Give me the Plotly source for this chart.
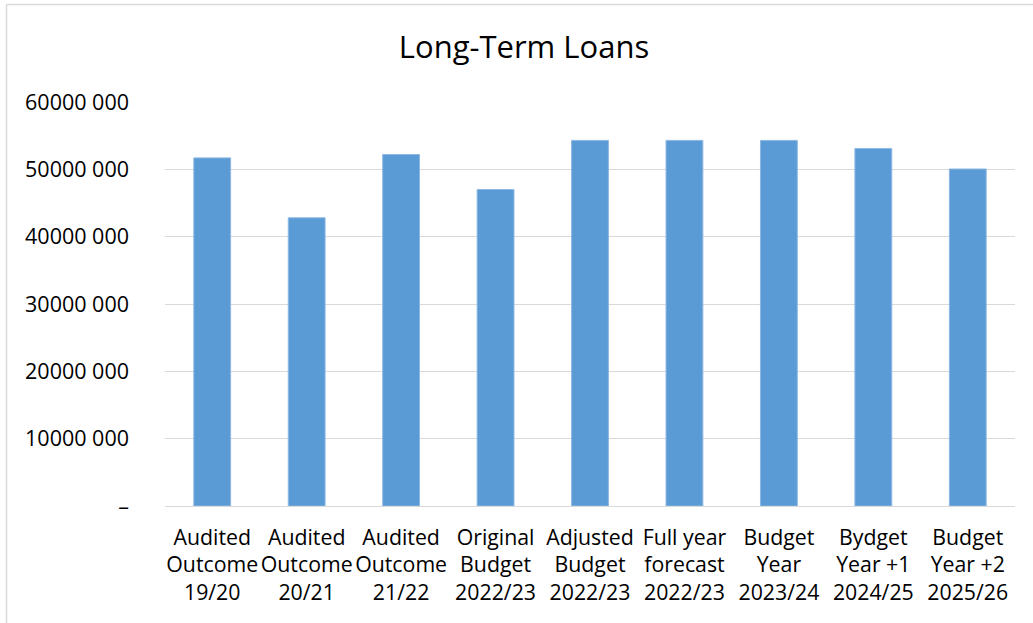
import plotly.graph_objects as go

categories = [
    "Audited<br>Outcome<br>19/20",
    "Audited<br>Outcome<br>20/21",
    "Audited<br>Outcome<br>21/22",
    "Original<br>Budget<br>2022/23",
    "Adjusted<br>Budget<br>2022/23",
    "Full year<br>forecast<br>2022/23",
    "Budget<br>Year<br>2023/24",
    "Bydget<br>Year +1<br>2024/25",
    "Budget<br>Year +2<br>2025/26",
]
values = [51700000, 42800000, 52200000, 47000000, 54300000, 54300000, 54300000, 53100000, 50050000]

tick_vals = [0, 10000000, 20000000, 30000000, 40000000, 50000000, 60000000]
tick_text = ["–", "10000 000", "20000 000", "30000 000", "40000 000", "50000 000", "60000 000"]

W, H = 1033, 623
ML, MR, MT, MB = 165, 18, 102, 117
pw = W - ML - MR
ph = H - MT - MB

def px_x(x):
    return (x - ML) / pw

def px_y(y):
    return (H - MB - y) / ph

font = "Open Sans, Lato, sans-serif"

fig = go.Figure(go.Bar(
    x=categories,
    y=values,
    marker=dict(color="#5B9BD5", line=dict(color="#8DB8E2", width=1)),
))

fig.update_layout(
    width=W, height=H,
    margin=dict(l=ML, r=MR, t=MT, b=MB),
    paper_bgcolor="white",
    plot_bgcolor="white",
    bargap=0.61,
    showlegend=False,
    title=dict(text="Long-Term Loans", x=524 / W, xref="container", xanchor="center",
               y=1 - 47 / H, yanchor="middle", yref="container",
               font=dict(family=font, size=31, color="#000000")),
    font=dict(family=font, size=21, color="#000000"),
    xaxis=dict(
        showgrid=False, showline=True, linecolor="#d9d9d9", linewidth=1,
        ticks="", tickangle=0, automargin=False,
        tickfont=dict(family=font, size=21.3, color="#000000"),
        ticklabelstandoff=12,
    ),
    yaxis=dict(
        range=[0, 60000000], tickvals=tick_vals, ticktext=tick_text,
        showgrid=True, gridcolor="#d9d9d9", gridwidth=1,
        zeroline=False, showline=False, ticks="", automargin=False,
        tickfont=dict(family=font, size=21.5, color="#000000"),
        ticklabelstandoff=35,
    ),
    shapes=[
        dict(type="line", xref="paper", yref="paper",
             x0=px_x(6.5), x1=px_x(1040), y0=px_y(4.5), y1=px_y(4.5),
             line=dict(color="#d9d9d9", width=1.5)),
        dict(type="line", xref="paper", yref="paper",
             x0=px_x(6.5), x1=px_x(6.5), y0=px_y(4.5), y1=px_y(630),
             line=dict(color="#d9d9d9", width=1.5)),
    ],
)

fig.write_html("out.html")
